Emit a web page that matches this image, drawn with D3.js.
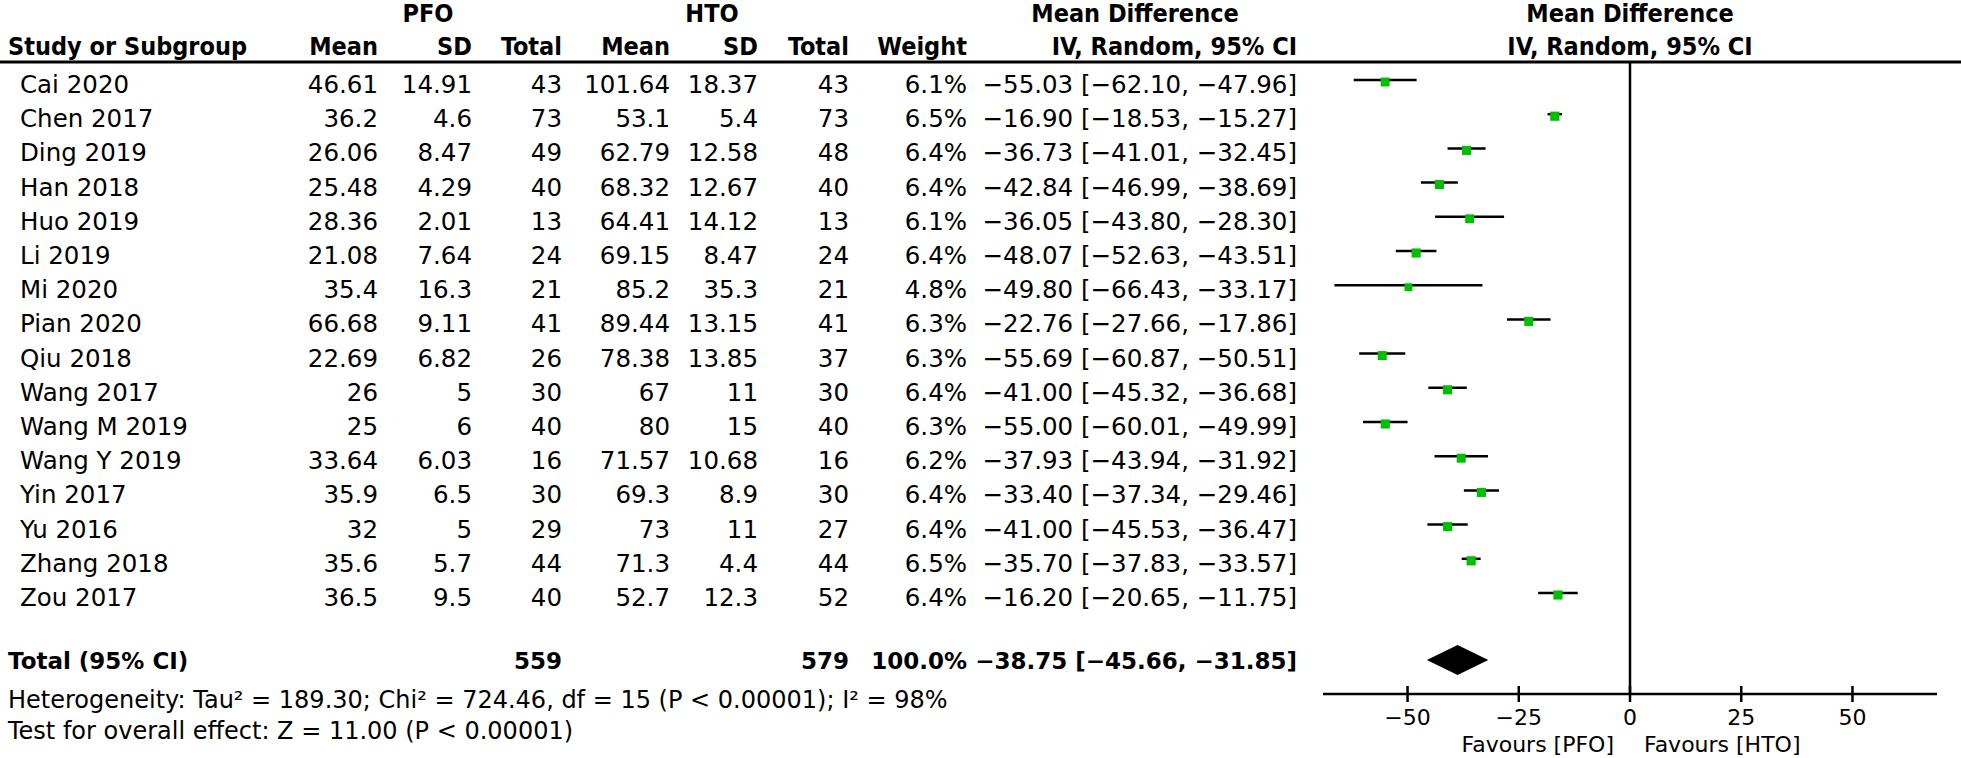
<!DOCTYPE html>
<html>
<head>
<meta charset="utf-8">
<script src="https://cdn.jsdelivr.net/npm/d3@7"></script>
<style>
  body { margin: 0; background: #fff; }
  svg { display: block; }
  .row { font-family: "DejaVu Sans", Verdana, sans-serif; font-size: 24.5px; }
  .head { font-family: "DejaVu Sans Condensed", "DejaVu Sans", sans-serif; font-stretch: condensed; font-weight: bold; font-size: 25px; }
  .tot { font-family: "DejaVu Sans", sans-serif; font-weight: bold; font-size: 23px; }
  .foot { font-family: "DejaVu Sans", sans-serif; font-size: 24px; }
  .axis text { font-family: "DejaVu Sans", sans-serif; font-size: 22px; }
</style>
</head>
<body>
<svg id="forest"></svg>
<script>
const studies = ["Cai 2020", "Chen 2017", "Ding 2019", "Han 2018", "Huo 2019", "Li 2019", "Mi 2020", "Pian 2020",
  "Qiu 2018", "Wang 2017", "Wang M 2019", "Wang Y 2019", "Yin 2017", "Yu 2016", "Zhang 2018", "Zou 2017"]
const pfoMean = ["46.61", "36.2", "26.06", "25.48", "28.36", "21.08", "35.4", "66.68", "22.69", "26", "25", "33.64", "35.9", "32", "35.6", "36.5"]
const pfoSD = ["14.91", "4.6", "8.47", "4.29", "2.01", "7.64", "16.3", "9.11", "6.82", "5", "6", "6.03", "6.5", "5", "5.7", "9.5"]
const pfoTotal = [43, 73, 49, 40, 13, 24, 21, 41, 26, 30, 40, 16, 30, 29, 44, 40]
const htoMean = ["101.64", "53.1", "62.79", "68.32", "64.41", "69.15", "85.2", "89.44", "78.38", "67", "80", "71.57", "69.3", "73", "71.3", "52.7"]
const htoSD = ["18.37", "5.4", "12.58", "12.67", "14.12", "8.47", "35.3", "13.15", "13.85", "11", "15", "10.68", "8.9", "11", "4.4", "12.3"]
const htoTotal = [43, 73, 48, 40, 13, 24, 21, 41, 37, 30, 40, 16, 30, 27, 44, 52]
const weights = [6.1, 6.5, 6.4, 6.4, 6.1, 6.4, 4.8, 6.3, 6.3, 6.4, 6.3, 6.2, 6.4, 6.4, 6.5, 6.4]
const md = [-55.03, -16.90, -36.73, -42.84, -36.05, -48.07, -49.80, -22.76, -55.69, -41.00, -55.00, -37.93, -33.40, -41.00, -35.70, -16.20]
const ciLow = [-62.10, -18.53, -41.01, -46.99, -43.80, -52.63, -66.43, -27.66, -60.87, -45.32, -60.01, -43.94, -37.34, -45.53, -37.83, -20.65]
const ciHigh = [-47.96, -15.27, -32.45, -38.69, -28.30, -43.51, -33.17, -17.86, -50.51, -36.68, -49.99, -31.92, -29.46, -36.47, -33.57, -11.75]

const totalPFO = 559
const totalHTO = 579
const totalWeight = "100.0%"
const totalMD = -38.75, totalLow = -45.66, totalHigh = -31.85
const heterogeneity = "Heterogeneity: Tau² = 189.30; Chi² = 724.46, df = 15 (P < 0.00001); I² = 98%"
const overallTest = "Test for overall effect: Z = 11.00 (P < 0.00001)"
const axisTicks = [-50, -25, 0, 25, 50]
const favours = ["Favours [PFO]", "Favours [HTO]"]

const width = 1961, height = 758
const svg = d3.select('#forest')
  .attr('width', width)
  .attr('height', height)

// number formatting with the typographic minus used by RevMan
const minus = s => String(s).replace(/-/g, '\u2212')
const f2 = v => minus(v.toFixed(2))
const ciText = (m, l, h) => `${f2(m)} [${f2(l)}, ${f2(h)}]`

// right edges of the table columns
const col = { mean1: 378, sd1: 472, n1: 562, mean2: 670, sd2: 758, n2: 849, weight: 967, ci: 1297 }

const x = d3.scaleLinear().domain([-69, 69]).range([1323, 1937])
const y = d3.scaleLinear().domain([0, studies.length - 1]).range([80, 593])
const axisY = 694, headLine = 62, totalY = 660

// headers
const head = svg.append('g').attr('class', 'head')
head.append('text').attr('x', 428).attr('y', 22).attr('text-anchor', 'middle').text('PFO')
head.append('text').attr('x', 712).attr('y', 22).attr('text-anchor', 'middle').text('HTO')
head.append('text').attr('x', 1135).attr('y', 22).attr('text-anchor', 'middle').text('Mean Difference')
head.append('text').attr('x', x(0)).attr('y', 22).attr('text-anchor', 'middle').text('Mean Difference')
head.append('text').attr('x', 8).attr('y', 55).text('Study or Subgroup')
const subHeads = [['mean1', 'Mean'], ['sd1', 'SD'], ['n1', 'Total'], ['mean2', 'Mean'], ['sd2', 'SD'], ['n2', 'Total'],
  ['weight', 'Weight'], ['ci', 'IV, Random, 95% CI']]
subHeads.forEach(([k, t]) => {
  head.append('text').attr('x', col[k]).attr('y', 55).attr('text-anchor', 'end').text(t)
})
head.append('text').attr('x', x(0)).attr('y', 55).attr('text-anchor', 'middle').text('IV, Random, 95% CI')

svg.append('line')
  .attr('x1', 0).attr('x2', width)
  .attr('y1', headLine).attr('y2', headLine)
  .attr('stroke', '#000').attr('stroke-width', 3)

// study rows
const rows = svg.append('g').attr('class', 'row')
studies.forEach((s, i) => {
  const by = y(i) + 13
  rows.append('text').attr('x', 20).attr('y', by).text(s)
  const cells = [['mean1', pfoMean[i]], ['sd1', pfoSD[i]], ['n1', pfoTotal[i]], ['mean2', htoMean[i]],
    ['sd2', htoSD[i]], ['n2', htoTotal[i]], ['weight', weights[i].toFixed(1) + '%'], ['ci', ciText(md[i], ciLow[i], ciHigh[i])]]
  cells.forEach(([k, v]) => {
    rows.append('text').attr('x', col[k]).attr('y', by).attr('text-anchor', 'end').text(v)
  })
})

// zero line
svg.append('line')
  .attr('x1', x(0)).attr('x2', x(0))
  .attr('y1', headLine).attr('y2', axisY)
  .attr('stroke', '#000').attr('stroke-width', 2.5)

// confidence intervals and squares
const marks = svg.append('g')
studies.forEach((s, i) => {
  marks.append('line')
    .attr('x1', x(ciLow[i])).attr('x2', x(ciHigh[i]))
    .attr('y1', y(i)).attr('y2', y(i))
    .attr('stroke', '#000').attr('stroke-width', 2.5)
  const sz = 3.6 * Math.sqrt(weights[i])
  marks.append('rect')
    .attr('x', x(md[i]) - sz / 2).attr('y', y(i) - sz / 2 + 2)
    .attr('width', sz).attr('height', sz)
    .attr('fill', '#00bf00')
})

// total row
const tot = svg.append('g').attr('class', 'tot')
tot.append('text').attr('x', 8).attr('y', totalY + 9).text('Total (95% CI)')
tot.append('text').attr('x', col.n1).attr('y', totalY + 9).attr('text-anchor', 'end').text(totalPFO)
tot.append('text').attr('x', col.n2).attr('y', totalY + 9).attr('text-anchor', 'end').text(totalHTO)
tot.append('text').attr('x', col.weight).attr('y', totalY + 9).attr('text-anchor', 'end').text(totalWeight)
tot.append('text').attr('x', col.ci).attr('y', totalY + 9).attr('text-anchor', 'end').text(ciText(totalMD, totalLow, totalHigh))

svg.append('path')
  .attr('d', `M${x(totalLow)},${totalY} L${x(totalMD)},${totalY - 15} L${x(totalHigh)},${totalY} L${x(totalMD)},${totalY + 15} Z`)
  .attr('fill', '#000')

const foot = svg.append('g').attr('class', 'foot')
foot.append('text').attr('x', 8).attr('y', 708).text(heterogeneity)
foot.append('text').attr('x', 8).attr('y', 739).text(overallTest)

// axis
const ax = svg.append('g').attr('class', 'axis')
ax.append('line')
  .attr('x1', x.range()[0]).attr('x2', x.range()[1])
  .attr('y1', axisY).attr('y2', axisY)
  .attr('stroke', '#000').attr('stroke-width', 2.5)
ax.selectAll('.tick').data(axisTicks).enter().append('line')
  .attr('x1', d => x(d)).attr('x2', d => x(d))
  .attr('y1', axisY - 8).attr('y2', axisY + 8)
  .attr('stroke', '#000').attr('stroke-width', 2.5)
ax.selectAll('.lab').data(axisTicks).enter().append('text')
  .attr('x', d => x(d)).attr('y', 725)
  .attr('text-anchor', 'middle')
  .text(d => minus(d))
ax.append('text').attr('x', x(0) - 16).attr('y', 752).attr('text-anchor', 'end').text(favours[0])
ax.append('text').attr('x', x(0) + 14).attr('y', 752).attr('text-anchor', 'start').text(favours[1])
</script>
</body>
</html>
